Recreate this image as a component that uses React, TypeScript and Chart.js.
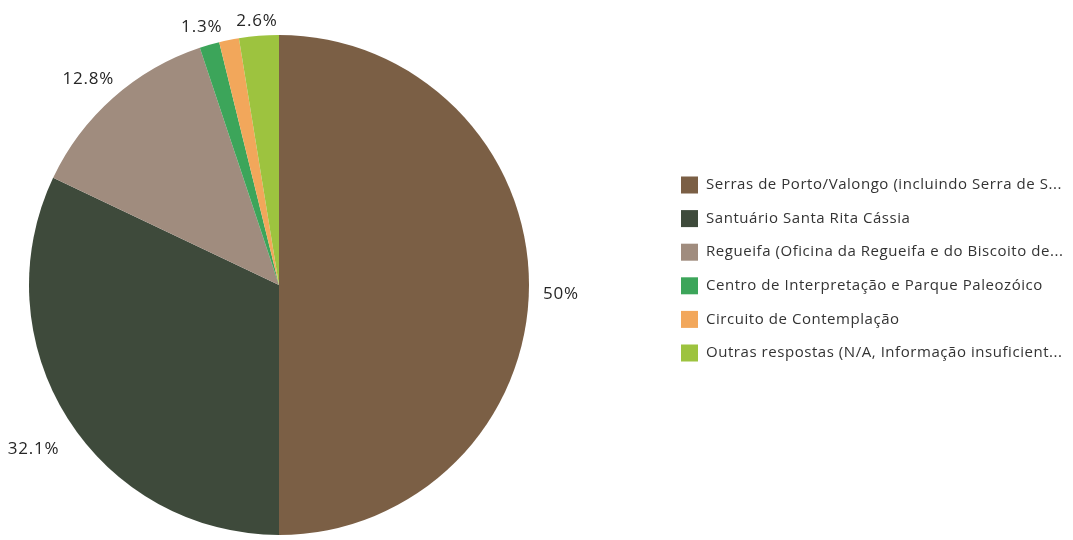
import React, { useEffect, useRef } from "react";
import { Chart, registerables } from "chart.js";

Chart.register(...registerables);

const categories: string[] = [
  "Serras de Porto/Valongo (incluindo Serra de S...",
  "Santuário Santa Rita Cássia",
  "Regueifa (Oficina da Regueifa e do Biscoito de...",
  "Centro de Interpretação e Parque Paleozóico",
  "Circuito de Contemplação",
  "Outras respostas (N/A, Informação insuficient...",
];
const counts: number[] = [39, 25, 10, 1, 1, 2];
const colors: string[] = ["#7b5f45", "#3e4a3b", "#a08c7e", "#3ca55a", "#f2a75b", "#9dc33f"];

const FONT = '"Open Sans", "Noto Sans", sans-serif';

function pctText(v: number, total: number): string {
  const p = (v / total) * 100;
  const s = p.toFixed(1);
  return s.endsWith(".0") ? s.slice(0, -2) + "%" : s + "%";
}

const outLabels = {
  id: "outLabels",
  afterDatasetsDraw(chart: any) {
    const ctx = chart.ctx;
    const meta = chart.getDatasetMeta(0);
    const data = chart.data.datasets[0].data as number[];
    const total = data.reduce((a, b) => a + b, 0);
    ctx.save();
    ctx.font = "17px " + FONT;
    (ctx as any).letterSpacing = "0.8px";
    ctx.fillStyle = "#262626";
    ctx.textAlign = "center";
    ctx.textBaseline = "middle";
    const placed: { l: number; r: number; t: number; b: number }[] = [];
    const gap = 14;
    const shift = 9;
    const h = 17;
    meta.data.forEach((arc: any, i: number) => {
      const p = arc.getProps(["x", "y", "startAngle", "endAngle", "outerRadius"], true);
      const mid = (p.startAngle + p.endAngle) / 2;
      const dx = Math.cos(mid);
      const dy = Math.sin(mid);
      const text = pctText(data[i], total);
      const w = ctx.measureText(text).width;
      const ext = (Math.abs(dx) * w) / 2 + (Math.abs(dy) * h) / 2;
      const d = p.outerRadius + gap + ext;
      const cx = p.x + dx * d;
      const cy = p.y + dy * d + shift;
      const box = { l: cx - w / 2, r: cx + w / 2, t: cy - h / 2, b: cy + h / 2 };
      const overlap = placed.some(
        (q) => box.l < q.r && box.r > q.l && box.t < q.b && box.b > q.t
      );
      if (overlap) return;
      placed.push(box);
      ctx.fillText(text, cx, cy);
    });
    ctx.restore();
  },
};

const sideLegend = {
  id: "sideLegend",
  afterDraw(chart: any) {
    const ctx = chart.ctx;
    const labels = chart.data.labels as string[];
    const bg = chart.data.datasets[0].backgroundColor as string[];
    ctx.save();
    ctx.font = "15px " + FONT;
    (ctx as any).letterSpacing = "0.55px";
    ctx.textAlign = "left";
    ctx.textBaseline = "middle";
    const x0 = 681;
    const y0 = 185;
    const step = 33.6;
    const box = 17;
    labels.forEach((lab, i) => {
      const cy = y0 + i * step;
      ctx.fillStyle = bg[i];
      ctx.fillRect(x0, cy - box / 2, box, box);
      ctx.fillStyle = "#333333";
      ctx.fillText(lab, x0 + 25, cy);
    });
    ctx.restore();
  },
};

export default function App() {
  const ref = useRef<HTMLCanvasElement | null>(null);
  useEffect(() => {
    if (!ref.current) return;
    const chart = new Chart(ref.current, {
      type: "pie",
      data: {
        labels: categories,
        datasets: [
          {
            data: counts,
            backgroundColor: colors,
            borderWidth: 0,
          },
        ],
      },
      options: {
        responsive: false,
        animation: false,
        devicePixelRatio: 1,
        layout: { padding: { left: 29, top: 35, right: 544, bottom: 5 } },
        plugins: {
          legend: { display: false },
          tooltip: { enabled: false },
        },
      },
      plugins: [outLabels, sideLegend],
    });
    return () => chart.destroy();
  }, []);
  return (
    <div style={{ position: "absolute", left: 0, top: 0, width: 1073, height: 540, background: "#fff" }}>
      <canvas ref={ref} width={1073} height={540} />
    </div>
  );
}
